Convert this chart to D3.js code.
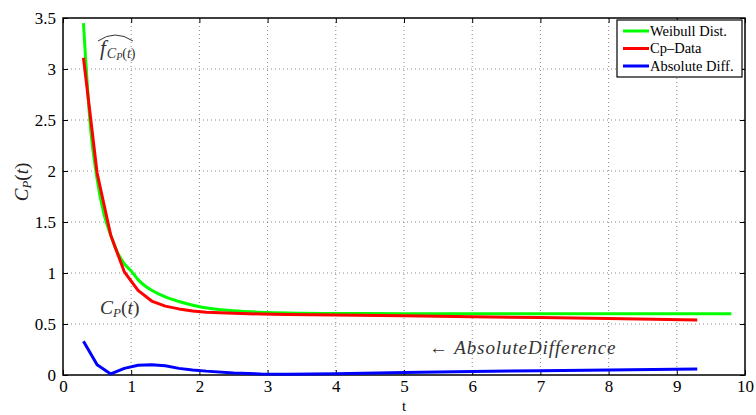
<!DOCTYPE html>
<html><head><meta charset="utf-8">
<script src="https://cdn.jsdelivr.net/npm/d3@7"></script>
<style>
html,body{margin:0;padding:0;background:#fff;}
svg text{font-family:"Liberation Serif","Times New Roman",serif;}
</style>
</head><body>
<svg id="chart" width="756" height="415"></svg>
<script>
// ---- data ----
const tWeibull = [0.3,0.4,0.5,0.6,0.7,0.8,0.9,1.0,1.1,1.2,1.3,1.5,1.7,2.0,2.5,3.0,3.5,4.0,5.0,7.0,9.8];
const weibull  = [3.45,2.45,1.92,1.58,1.37,1.2,1.09,1.02,0.935,0.875,0.83,0.765,0.72,0.67,0.63,0.613,0.606,0.603,0.601,0.6,0.6];
const tData    = [0.3,0.5,0.7,0.9,1.1,1.3,1.5,1.7,1.9,2.1,2.5,2.9,3.3,4.0,5.0,6.0,7.0,8.0,9.3];
const cpData   = [3.11,1.98,1.37,1.01,0.83,0.725,0.675,0.648,0.628,0.615,0.605,0.598,0.593,0.588,0.58,0.572,0.563,0.553,0.538];
const absDiff  = [0.33,0.10,0.01,0.065,0.095,0.10,0.09,0.065,0.05,0.038,0.02,0.01,0.008,0.012,0.025,0.035,0.042,0.05,0.06];
const xTicks = [0,1,2,3,4,5,6,7,8,9,10];
const yTicks = [0,0.5,1,1.5,2,2.5,3,3.5];
const legendLabels = ["Weibull Dist.","Cp\u2013Data","Absolute Diff."];
const colors = ["#00ff00","#ff0000","#0000ff"];

// ---- layout ----
const svg = d3.select("#chart");
const L = 63, R = 745, T = 18, B = 375;
const x = d3.scaleLinear().domain([0,10]).range([L,R]);
const y = d3.scaleLinear().domain([0,3.5]).range([B,T]);

// grid
const g = svg.append("g");
g.selectAll(".vg").data(xTicks.slice(1,-1)).enter().append("line")
  .attr("x1",d=>x(d)).attr("x2",d=>x(d)).attr("y1",T).attr("y2",B)
  .attr("stroke","#888").attr("stroke-width",1).attr("stroke-dasharray","1,3");
g.selectAll(".hg").data(yTicks.slice(1,-1)).enter().append("line")
  .attr("y1",d=>y(d)).attr("y2",d=>y(d)).attr("x1",L).attr("x2",R)
  .attr("stroke","#888").attr("stroke-width",1).attr("stroke-dasharray","1,3");

// axes (ticks inward)
const xAxis = d3.axisBottom(x).tickValues(xTicks).tickSizeInner(-5).tickSizeOuter(0).tickPadding(5).tickFormat(d3.format("d"));
const yAxis = d3.axisLeft(y).tickValues(yTicks).tickSizeInner(-5).tickSizeOuter(0).tickPadding(7).tickFormat(d=>String(d));
const xa = svg.append("g").attr("transform",`translate(0,${B})`).call(xAxis);
const ya = svg.append("g").attr("transform",`translate(${L},0)`).call(yAxis);
const xTop = svg.append("g").attr("transform",`translate(0,${T})`).call(d3.axisTop(x).tickValues(xTicks).tickSizeInner(-5).tickSizeOuter(0).tickFormat(""));
const yRight = svg.append("g").attr("transform",`translate(${R},0)`).call(d3.axisRight(y).tickValues(yTicks).tickSizeInner(-5).tickSizeOuter(0).tickFormat(""));
[xa,ya,xTop,yRight].forEach(a=>{
  a.select(".domain").remove();
  a.selectAll(".tick line").attr("stroke","#000").attr("stroke-width",1);
  a.selectAll("text").attr("font-size",17).attr("fill","#000");
});
xa.selectAll("text").attr("dy","0.71em");

// frame
svg.append("rect").attr("x",L).attr("y",T).attr("width",R-L).attr("height",B-T)
  .attr("fill","none").attr("stroke","#000").attr("stroke-width",1.5);

// lines
const series = [
  {t:tWeibull, v:weibull, c:colors[0], curve:d3.curveMonotoneX},
  {t:tData, v:cpData, c:colors[1], curve:d3.curveLinear},
  {t:tData, v:absDiff, c:colors[2], curve:d3.curveLinear}
];
series.forEach(s=>{
  const pts = s.t.map((t,i)=>[x(t), y(s.v[i])]);
  svg.append("path").attr("d", d3.line().curve(s.curve)(pts))
    .attr("fill","none").attr("stroke",s.c).attr("stroke-width",3).attr("stroke-linejoin","round");
});

// legend
const lg = svg.append("g");
lg.append("rect").attr("x",617).attr("y",20).attr("width",125).attr("height",57)
  .attr("fill","#fff").attr("stroke","#000").attr("stroke-width",1.2);
legendLabels.forEach((lab,i)=>{
  const yy = 31 + i*17.5;
  lg.append("line").attr("x1",623).attr("x2",649).attr("y1",yy).attr("y2",yy)
    .attr("stroke",colors[i]).attr("stroke-width",3);
  lg.append("text").attr("x",650).attr("y",yy+4.5).attr("font-size",14.5).attr("fill","#000").text(lab);
});

// annotations
const ann = svg.append("g").attr("fill","#333");
// f-hat
ann.append("path").attr("d","M98,41 Q115,29 133,41").attr("fill","none").attr("stroke","#333").attr("stroke-width",1);
const fh = ann.append("text").attr("x",100).attr("y",55).attr("font-style","italic").attr("font-size",21);
fh.append("tspan").text("f");
fh.append("tspan").attr("dy",3).attr("dx",1).attr("font-size",14).text("C");
fh.append("tspan").attr("dy",2).attr("font-size",10).text("P");
fh.append("tspan").attr("dy",-2).attr("font-size",14).attr("font-style","normal").text("(");
fh.append("tspan").attr("font-size",14).text("t");
fh.append("tspan").attr("font-size",14).attr("font-style","normal").text(")");
// C_P(t)
const cp = ann.append("text").attr("x",100).attr("y",314).attr("font-style","italic").attr("font-size",19.5);
cp.append("tspan").text("C");
cp.append("tspan").attr("dy",3).attr("font-size",13).text("P");
cp.append("tspan").attr("dy",-3).attr("font-style","normal").text("(");
cp.append("tspan").text("t");
cp.append("tspan").attr("font-style","normal").text(")");
// Absolute difference
ann.append("text").attr("x",429).attr("y",354).attr("font-size",19).attr("font-style","italic")
  .attr("letter-spacing",0.9)
  .text("\u2190 AbsoluteDifference");

// axis labels
svg.append("text").attr("x",x(5)).attr("y",411).attr("text-anchor","middle")
  .attr("font-size",15).attr("font-family","Liberation Sans, Arial, sans-serif").attr("fill","#000").text("t");
const yl = svg.append("text").attr("transform","translate(28,182) rotate(-90)").attr("text-anchor","middle")
  .attr("font-size",19).attr("font-style","italic").attr("fill","#222");
yl.append("tspan").text("C");
yl.append("tspan").attr("dy",3).attr("font-size",13).text("P");
yl.append("tspan").attr("dy",-3).attr("font-style","normal").text("(");
yl.append("tspan").text("t");
yl.append("tspan").attr("font-style","normal").text(")");
</script>
</body></html>
